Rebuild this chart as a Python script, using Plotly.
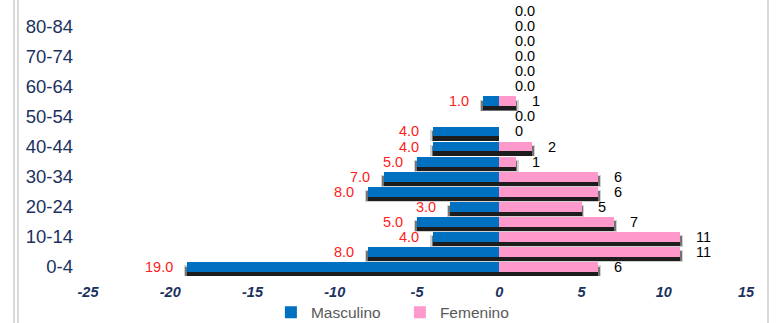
import plotly.graph_objects as go

# Age groups, bottom to top
ages = ["0-4", "5-9", "10-14", "15-19", "20-24", "25-29", "30-34", "35-39", "40-44",
        "45-49", "50-54", "55-59", "60-64", "65-69", "70-74", "75-79", "80-84", "85+"]
masculino = [19, 8, 4, 5, 3, 8, 7, 5, 4, 4, 0, 1, 0, 0, 0, 0, 0, 0]
femenino = [6, 11, 11, 7, 5, 6, 6, 1, 2, 0, 0, 1, 0, 0, 0, 0, 0, 0]
x_ticks = [-25, -20, -15, -10, -5, 0, 5, 10, 15]

BLUE = "#0070C0"
PINK = "#FF99CC"
NAVY = "#1A3260"
FONT = "Liberation Sans, Arial, sans-serif"

pos = list(range(len(ages)))
fig = go.Figure()

# Soft drop shadows under every non-empty bar (layered for a blurred edge)
for off, width, pad, color in [(-0.28, 0.76, 0.18, "rgba(0,0,0,0.18)"),
                               (-0.30, 0.66, 0.10, "rgba(0,0,0,0.45)"),
                               (-0.32, 0.56, 0.0, "rgba(20,20,20,0.9)")]:
    ys = [p + off for p in pos]
    fig.add_trace(go.Bar(
        y=ys, x=[-(m + pad) if m > 0 else 0 for m in masculino], base=0,
        orientation="h", width=width, marker=dict(color=color, line_width=0),
        showlegend=False, hoverinfo="skip"))
    fig.add_trace(go.Bar(
        y=ys, x=[(f + pad) if f > 0 else 0 for f in femenino], base=0,
        orientation="h", width=width, marker=dict(color=color, line_width=0),
        showlegend=False, hoverinfo="skip"))

fig.add_trace(go.Bar(
    y=pos, x=[-m for m in masculino], orientation="h", width=0.66, name="Masculino",
    marker=dict(color=BLUE, line_width=0)))
fig.add_trace(go.Bar(
    y=pos, x=femenino, orientation="h", width=0.66, name="Femenino",
    marker=dict(color=PINK, line_width=0)))

annotations = []
for p, m, f in zip(pos, masculino, femenino):
    if m > 0:
        annotations.append(dict(x=-m, y=p, text=f"{m:.1f}", showarrow=False,
                                xanchor="right", xshift=-12,
                                font=dict(family=FONT, size=14.5, color="#FF2020")))
        annotations.append(dict(x=f, y=p, text=f"{f}", showarrow=False,
                                xanchor="left", xshift=14,
                                font=dict(family=FONT, size=14.5, color="#000000")))
    elif f > 0:
        annotations.append(dict(x=f, y=p, text=f"{f}", showarrow=False,
                                xanchor="left", xshift=14,
                                font=dict(family=FONT, size=14.5, color="#000000")))
    else:
        # empty row: a single value label at the axis
        annotations.append(dict(x=0, y=p, text=f"{m:.1f}", showarrow=False,
                                xanchor="left", xshift=14,
                                font=dict(family=FONT, size=14.5, color="#000000")))

# Light frame lines at the left and right edges
shapes = []
for x0, x1, anchor in [(-75, -73, 0), (-71, -69, 0), (21, 23, 1)]:
    shapes.append(dict(type="rect", xref="paper", yref="paper", xsizemode="pixel",
                       xanchor=anchor, x0=x0, x1=x1, y0=-0.5, y1=1.5,
                       fillcolor="#D9D9D9", line_width=0, layer="below"))

fig.update_layout(
    width=779, height=323,
    margin=dict(l=88, r=33, t=5, b=47),
    paper_bgcolor="white", plot_bgcolor="white",
    barmode="overlay",
    bargap=0,
    showlegend=True,
    legend=dict(orientation="h", x=0.474, xanchor="center",
                yref="container", y=0.032, yanchor="middle",
                bgcolor="rgba(0,0,0,0)",
                font=dict(family=FONT, size=15.5, color="#595959"),
                traceorder="normal", itemwidth=30, entrywidth=84),
    annotations=annotations,
    shapes=shapes,
    xaxis=dict(range=[-25, 15], tickvals=x_ticks, ticktext=[str(v) for v in x_ticks],
               showgrid=False, zeroline=False, showline=False, ticks="",
               ticklabelstandoff=5, automargin=False,
               tickfont=dict(family=FONT, size=14.5, color=NAVY, weight="bold", style="italic")),
    yaxis=dict(range=[-0.6, 17.4], tickvals=pos[::2], ticktext=ages[::2],
               showgrid=False, zeroline=False, showline=False, ticks="",
               ticklabelstandoff=14, automargin=False,
               tickfont=dict(family=FONT, size=18.5, color=NAVY)),
)

fig.write_html("out.html")
